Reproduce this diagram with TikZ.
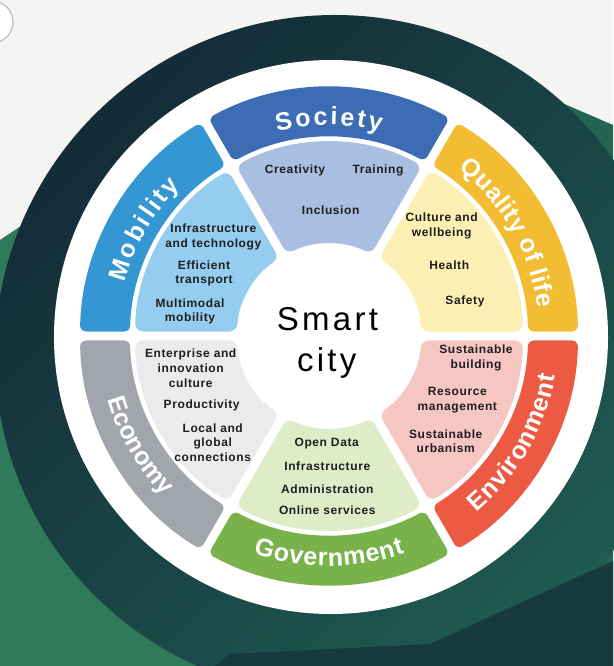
\documentclass[tikz,border=0pt]{standalone}
\usepackage{fontspec}
\setmainfont{Liberation Sans}
\newfontfamily\itemfont[LetterSpace=5]{Liberation Sans}
\newfontfamily\bandfont{Liberation Sans}
\newfontfamily\smartfont[LetterSpace=10]{Liberation Sans}
\usetikzlibrary{decorations.text}
\definecolor{paper}{HTML}{F4F4F2}
\definecolor{bggreen}{HTML}{2E7A5B}
\definecolor{bgteal}{HTML}{236453}
\definecolor{bgnavy}{HTML}{173A40}
\definecolor{ringL}{HTML}{142C38}
\definecolor{ringR}{HTML}{1F5B51}
\definecolor{socB}{HTML}{3C6DB4}
\definecolor{socI}{HTML}{A9BFE2}
\definecolor{mobB}{HTML}{3497D3}
\definecolor{mobI}{HTML}{94CDF0}
\definecolor{qolB}{HTML}{F2BD32}
\definecolor{qolI}{HTML}{FCEFB3}
\definecolor{envB}{HTML}{ED5A44}
\definecolor{envI}{HTML}{F6C6C3}
\definecolor{govB}{HTML}{79B24B}
\definecolor{govI}{HTML}{DEECC8}
\definecolor{ecoB}{HTML}{A3A5AD}
\definecolor{ecoI}{HTML}{EBEBEE}
\definecolor{itemtxt}{HTML}{1E1E1E}
\newcommand\ks[1]{{#1\kern2.6pt}}
\newcommand\kt[1]{{#1\kern0.8pt}}
\newcommand\kq[1]{{#1\kern0.5pt}}
\tikzset{
  item/.style={font=\itemfont\bfseries\fontsize{12}{14.8}\selectfont, text=itemtxt, align=center, inner sep=0pt},
  smart/.style={font=\smartfont\fontsize{33}{36}\selectfont, text=black, inner sep=0pt},
  bandlabel/.style={decorate, decoration={text along path, text align=center, text color=white, text={|\bandfont\bfseries\fontsize{25}{25}\selectfont|#1}}}
}
\begin{document}
\begin{tikzpicture}[x=1pt,y=1pt]
\useasboundingbox (-329,-330) rectangle (284,336);
% paper
\fill[paper] (-329,-330) rectangle (284,336);
\draw[line width=1.2pt, draw=black!25, fill=white] (-337,314) circle (21);
% background shapes
\fill[bggreen] (-329,96) -- (-269,136) -- (-29,186) -- (100,200) -- (100,-330) -- (-329,-330) -- cycle;
\fill[bgteal] (226,236) -- (284,211) -- (284,-330) -- (60,-330) -- (60,200) -- cycle;
% dark ring
\shade[top color=ringL, bottom color=ringR, shading angle=45] (6,-19) circle (340);
% bottom navy shape
\fill[bgnavy] (-114,-330) -- (-99,-318) -- (101,-308) -- (284,-225) -- (284,-330) -- cycle;
% white disk
\fill[white] (2,-1) circle (277);
% sectors
\foreach \a/\cb/\ci in {0/qolB/qolI, 60/socB/socI, 120/mobB/mobI, 180/ecoB/ecoI, 240/govB/govI, 300/envB/envI}{
  \fill[\cb, rounded corners=6pt] ({\a+1.036}:249) arc[start angle={\a+1.036}, end angle={\a+60-1.036}, radius=249] -- ({\a+60-1.296}:199) arc[start angle={\a+60-1.296}, end angle={\a+1.296}, radius=199] -- cycle;
  \fill[\ci, rounded corners=8pt] ({\a+1.329}:194) arc[start angle={\a+1.329}, end angle={\a+60-1.329}, radius=194] -- ({\a+60-2.8}:92) arc[start angle={\a+60-2.8}, end angle={\a+2.8}, radius=92] -- cycle;
}
% band labels
\path[bandlabel={\ks{S}\ks{o}\ks{c}\ks{i}\ks{e}\ks{t}y}] (120:211) arc[start angle=120, end angle=60, radius=211];
\path[bandlabel={\ks{M}\ks{o}\ks{b}\ks{i}\ks{l}\ks{i}\ks{t}y}] (180:211) arc[start angle=180, end angle=120, radius=211];
\path[bandlabel={\kq{Q}\kq{u}\kq{a}\kq{l}\kq{i}\kq{t}\kq{y} \kq{o}\kq{f} \kq{l}\kq{i}\kq{f}e}] (60:211) arc[start angle=60, end angle=0, radius=211];
\path[bandlabel=Economy] (180:230) arc[start angle=180, end angle=240, radius=230];
\path[bandlabel={\kt{G}\kt{o}\kt{v}\kt{e}\kt{r}\kt{n}\kt{m}\kt{e}\kt{n}t}] (240:230) arc[start angle=240, end angle=300, radius=230];
\path[bandlabel={\kt{E}\kt{n}\kt{v}\kt{i}\kt{r}\kt{o}\kt{n}\kt{m}\kt{e}\kt{n}t}] (300:230) arc[start angle=300, end angle=360, radius=230];
% centre
\node[smart, anchor=base] (smart) at (-1.5,5.3) {Smart};
\node[smart, anchor=base] (city) at (-2.3,-35.7) {city};
% society items
\node[item] (creat) at (-34,165.3) {Creativity};
\node[item] (train) at (49,165.3) {Training};
\node[item] (incl) at (1.7,125.3) {Inclusion};
% mobility items
\node[item] (infra) at (-115.7,99.3) {Infrastructure\\and technology};
\node[item] (effic) at (-125,62.7) {Efficient\\transport};
\node[item] (multi) at (-139,24.7) {Multimodal\\mobility};
% quality of life items
\node[item] (cult) at (112.7,110.2) {Culture and\\wellbeing};
\node[item] (health) at (120.3,71) {Health};
\node[item] (safety) at (136,35) {Safety};
% environment items
\node[item] (sbuild) at (147,-22.3) {Sustainable\\building};
\node[item] (resman) at (128.3,-64.5) {Resource\\management};
\node[item] (surban) at (116.7,-105.2) {Sustainable\\urbanism};
% economy items
\node[item] (enter) at (-138.3,-32.5) {Enterprise and\\innovation\\culture};
\node[item] (prod) at (-127.3,-69) {Productivity};
\node[item] (local) at (-116.3,-106.7) {Local and\\global\\connections};
% government items
\node[item] (open) at (-2.3,-108) {Open Data};
\node[item] (ginfra) at (-1.7,-130) {Infrastructure};
\node[item] (admin) at (-1.7,-153) {Administration};
\node[item] (online) at (-1.7,-174.7) {Online services};
\end{tikzpicture}
\end{document}
